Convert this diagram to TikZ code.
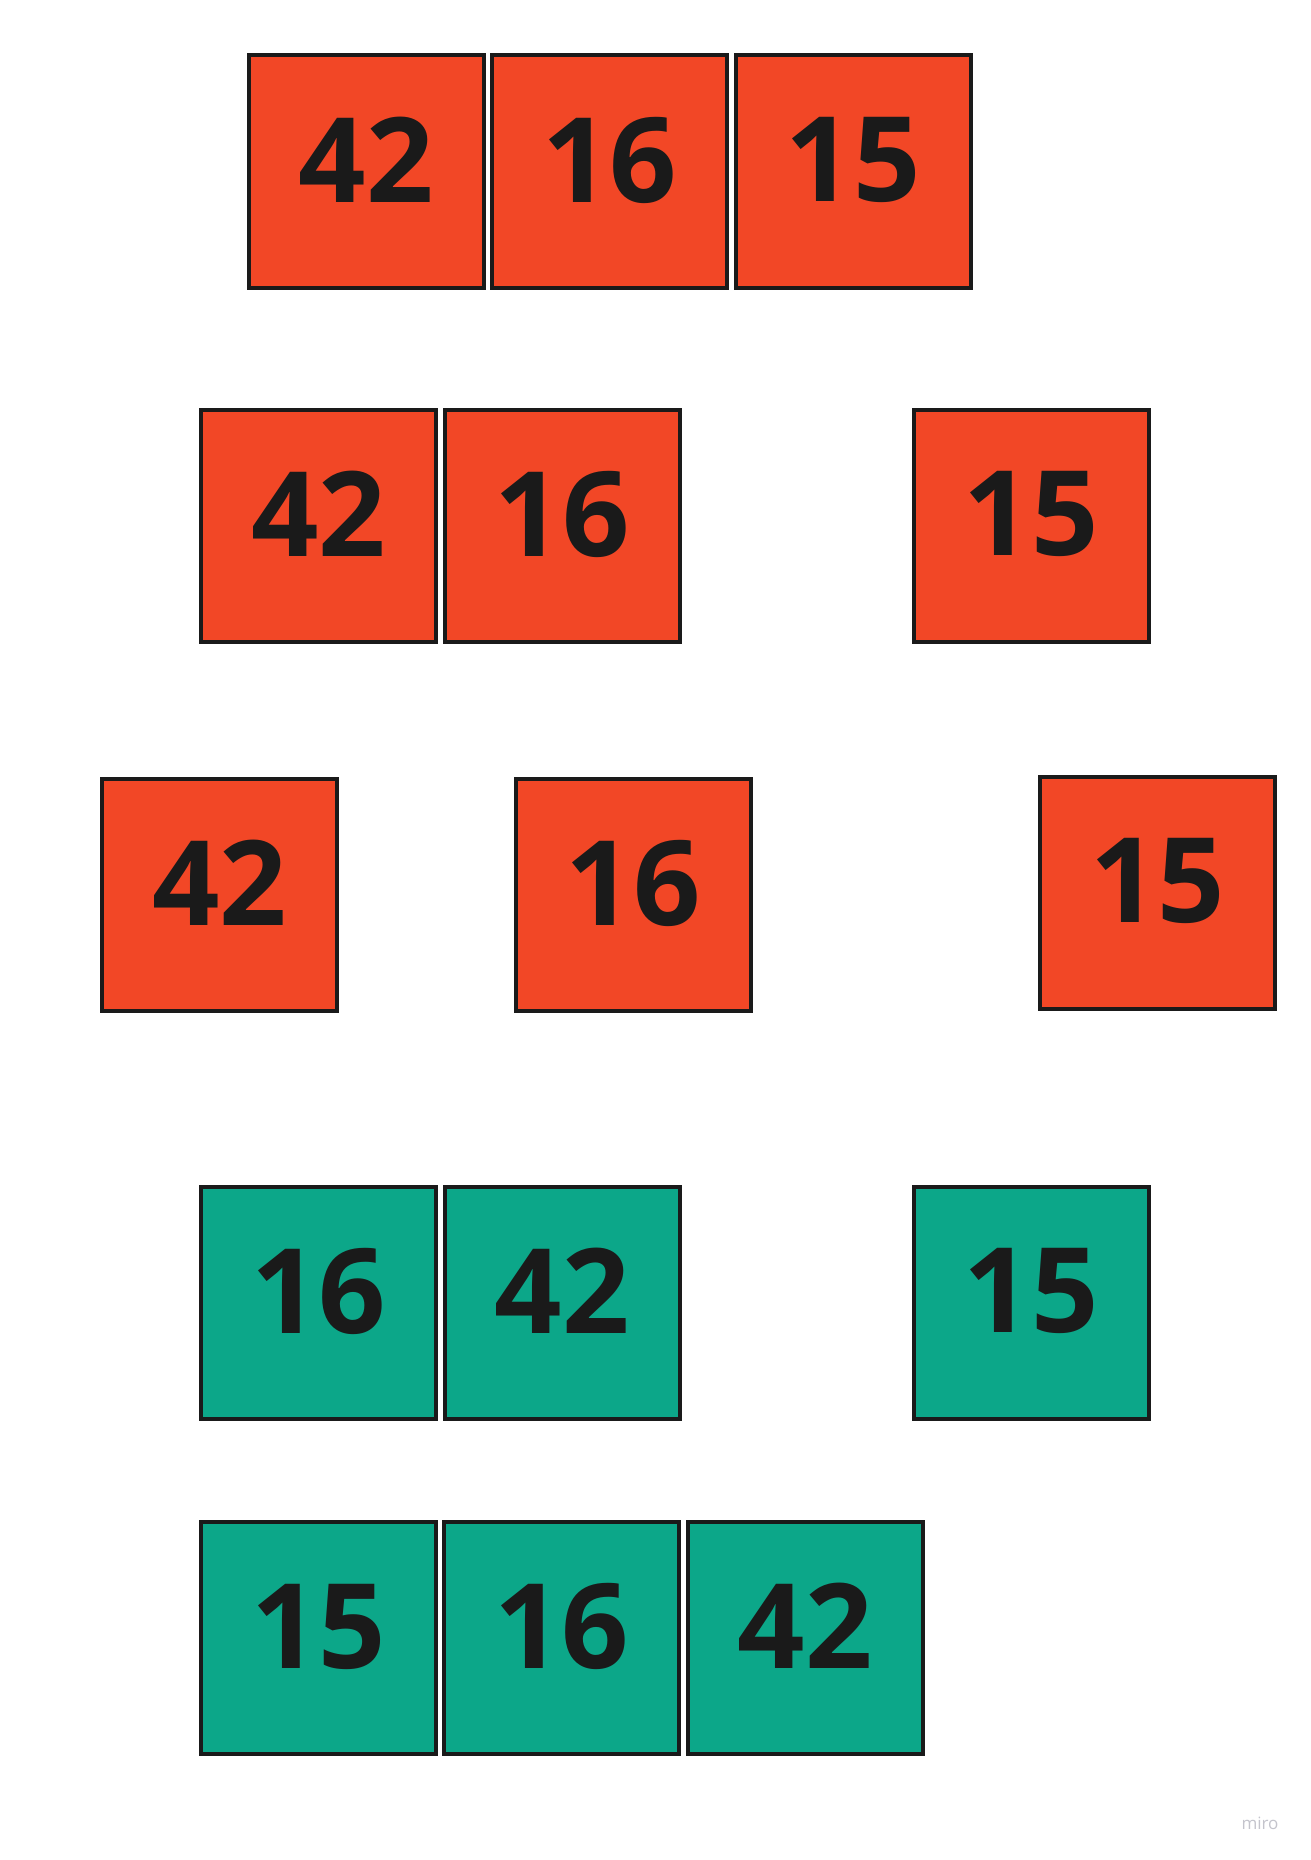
\documentclass[tikz,border=0pt]{standalone}
\usepackage{fontspec}
\setmainfont{Open Sans}
\definecolor{mred}{HTML}{F24726}
\definecolor{mgreen}{HTML}{0CA789}
\definecolor{ink}{HTML}{1A1A1A}
\definecolor{wm}{HTML}{C4C4CC}
\begin{document}
\begin{tikzpicture}[x=1pt,y=-1pt,
  cell/.style={draw=ink, line width=4pt, minimum width=235pt, minimum height=232pt,
    inner sep=0pt, text=ink, font=\fontsize{118}{118}\selectfont\bfseries, text depth=24pt},
  redcell/.style={cell, fill=mred},
  greencell/.style={cell, fill=mgreen}]
\useasboundingbox[fill=white] (0,0) rectangle (1311,1860);
% row 1
\node[redcell] (a1) at (366,171.5) {42};
\node[redcell] (a2) at (609.5,171.5) {16};
\node[redcell] (a3) at (853,171.5) {15};
% row 2
\node[redcell] (b1) at (318.5,525.5) {42};
\node[redcell] (b2) at (562,525.5) {16};
\node[redcell] (b3) at (1031,525.5) {15};
% row 3
\node[redcell] (c1) at (219.5,894.5) {42};
\node[redcell] (c2) at (633,894.5) {16};
\node[redcell] (c3) at (1157.5,892.5) {15};
% row 4
\node[greencell] (d1) at (318.5,1302.5) {16};
\node[greencell] (d2) at (562,1302.5) {42};
\node[greencell] (d3) at (1031,1302.5) {15};
% row 5
\node[greencell] (e1) at (318.5,1638) {15};
\node[greencell] (e2) at (561.5,1638) {16};
\node[greencell] (e3) at (805,1638) {42};
% watermark
\node[text=wm, font=\fontsize{17}{17}\selectfont, inner sep=0pt] (wmk) at (1260,1823) {miro};
\end{tikzpicture}
\end{document}
